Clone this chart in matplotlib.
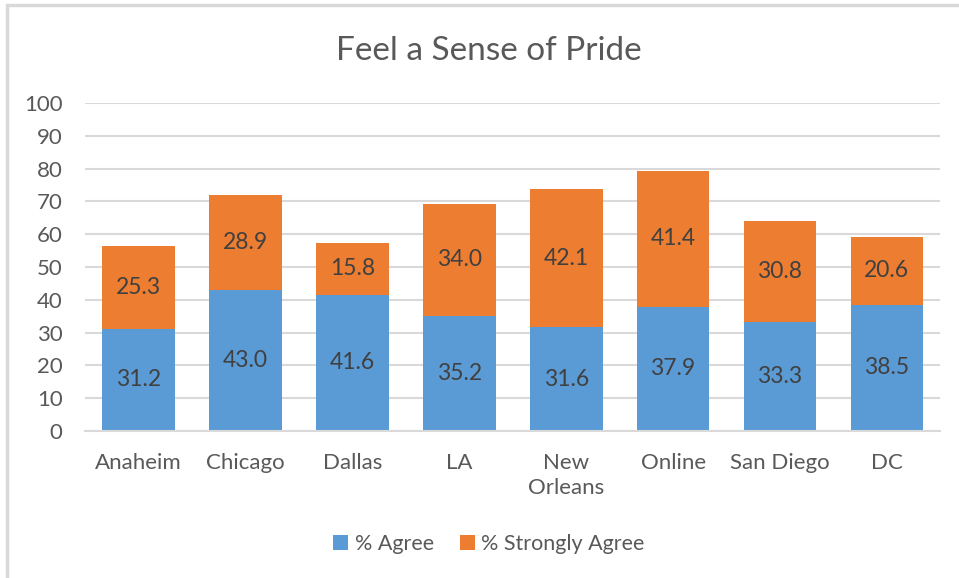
import numpy as np
import matplotlib.pyplot as plt
from matplotlib.patches import Rectangle

plt.rcParams['font.family'] = ['Lato', 'DejaVu Sans']

# datos
cities = ['Anaheim', 'Chicago', 'Dallas', 'LA', 'New\nOrleans', 'Online', 'San Diego', 'DC']
agree = [31.2, 43.0, 41.6, 35.2, 31.6, 37.9, 33.3, 38.5]
strongly_agree = [25.3, 28.9, 15.8, 34.0, 42.1, 41.4, 30.8, 20.6]

azul = '#5B9BD5'
naranja = '#ED7D31'
gris_texto = '#595959'
gris_linea = '#D9D9D9'

fig = plt.figure(figsize=(9.59, 5.78), dpi=100)
ax = fig.add_axes([0.0886, 0.2543, 0.892, 0.5675])

# marco del grafico
fig.patches.append(Rectangle((7 / 959, -0.01), 1.0, 1 - 5 / 578 + 0.01, transform=fig.transFigure,
                             fill=False, edgecolor=gris_linea, linewidth=2.5))

x = np.arange(len(cities))
b1 = ax.bar(x, agree, width=0.68, color=azul, label='% Agree', zorder=2)
b2 = ax.bar(x, strongly_agree, width=0.68, bottom=agree, color=naranja, label='% Strongly Agree', zorder=2)

for rect, v in zip(b1, agree):
    ax.text(rect.get_x() + rect.get_width() / 2, rect.get_y() + rect.get_height() / 2, f'{v:.1f}',
            ha='center', va='center', fontsize=16.5, color='#404040', zorder=3)
for rect, v in zip(b2, strongly_agree):
    ax.text(rect.get_x() + rect.get_width() / 2, rect.get_y() + rect.get_height() / 2, f'{v:.1f}',
            ha='center', va='center', fontsize=16.5, color='#404040', zorder=3)

ax.set_xlim(-0.5, len(cities) - 0.5)
ax.set_ylim(0, 100)
ax.set_yticks(range(0, 101, 10))
ax.set_xticks(x)
ax.set_xticklabels(cities, linespacing=1.3)
ax.tick_params(axis='both', length=0, labelsize=16, labelcolor=gris_texto)
ax.tick_params(axis='y', pad=16)
ax.tick_params(axis='x', pad=16)
ax.grid(axis='y', color=gris_linea, linewidth=1.5, zorder=0)
for s in ['top', 'right', 'left']:
    ax.spines[s].set_visible(False)
ax.spines['bottom'].set_color(gris_linea)
ax.spines['bottom'].set_linewidth(1.5)

fig.text(0.51, 0.912, 'Feel a Sense of Pride', ha='center', va='center', fontsize=24, color=gris_texto)

fig.legend(handles=[b1, b2], loc='center', bbox_to_anchor=(0.51, 0.058), ncol=2, frameon=False,
           fontsize=15.5, labelcolor=gris_texto, handlelength=0.7, handleheight=0.7,
           handletextpad=0.3, columnspacing=1.2)

fig.savefig('out.png', dpi=100)
